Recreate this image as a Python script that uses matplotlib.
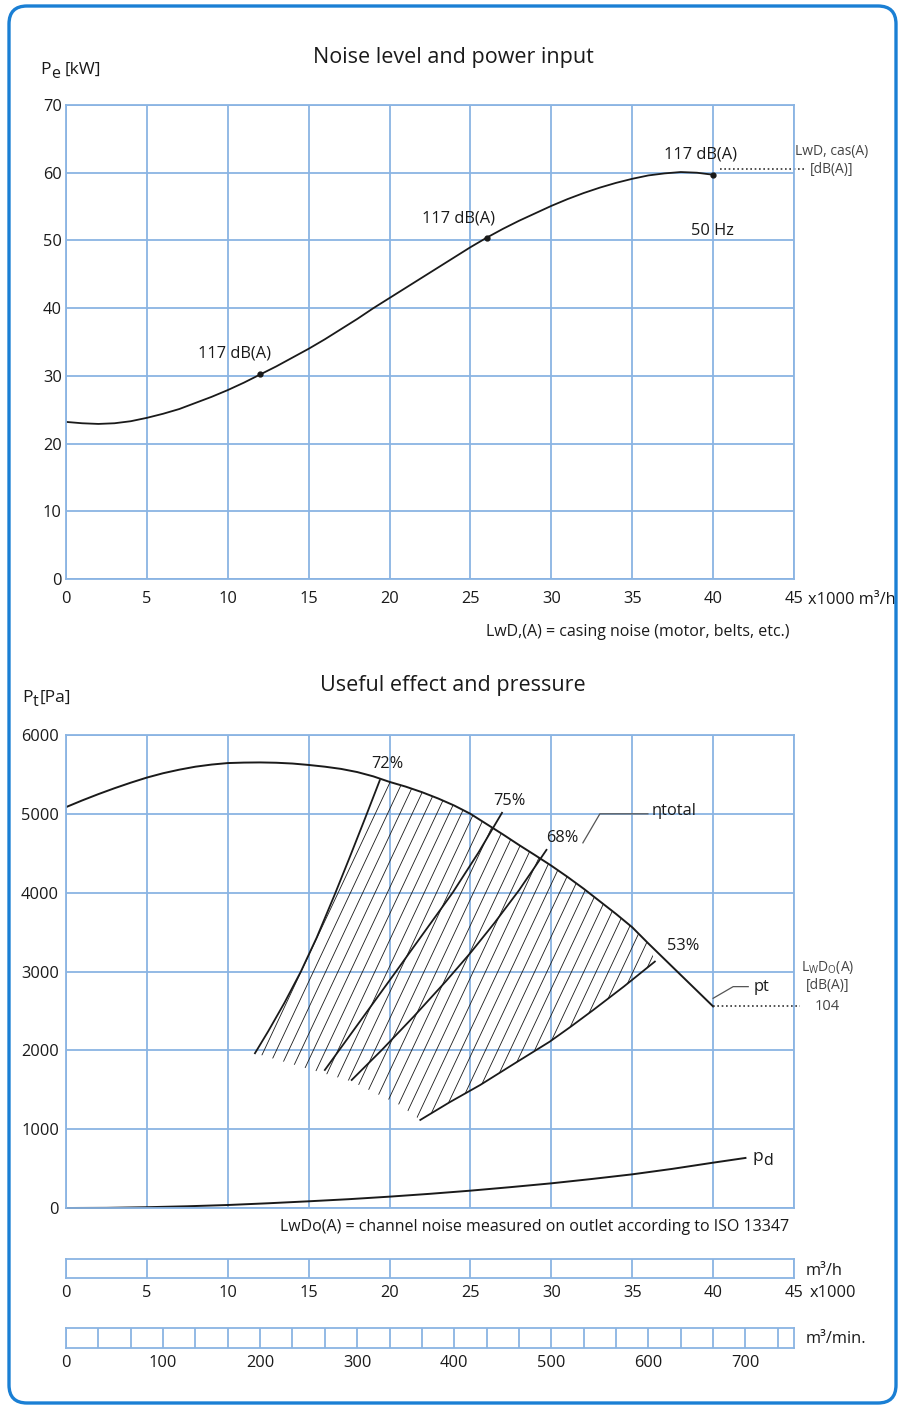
import matplotlib
matplotlib.use("Agg")
import matplotlib.pyplot as plt
import numpy as np
from matplotlib.collections import LineCollection
from matplotlib.patches import Polygon, FancyBboxPatch
from matplotlib.transforms import IdentityTransform

# ---- datos ----
# potencia absorbida Pe [kW] contra caudal (x1000 m3/h)
pe_x = list(range(0, 41))
pe_kw = [23.2, 23.0, 22.9, 23.0, 23.3, 23.8, 24.4, 25.1, 26.0, 26.9, 27.9,
         29.0, 30.2, 31.4, 32.7, 34.0, 35.4, 36.9, 38.4, 40.0, 41.5,
         43.0, 44.5, 46.0, 47.5, 49.0, 50.4, 51.7, 52.9, 54.0, 55.1,
         56.1, 57.0, 57.8, 58.5, 59.1, 59.6, 59.9, 60.1, 60.0, 59.7]
ruido_x = [12, 26, 40]
ruido_kw = [30.3, 50.4, 59.7]
ruido_txt = ["117 dB(A)", "117 dB(A)", "117 dB(A)"]

# presion total pt [Pa]
pt_x = list(range(0, 37)) + [40]
pt_pa = [5085, 5170, 5250, 5325, 5395, 5460, 5515, 5560, 5598, 5625, 5644,
         5650, 5652, 5648, 5638, 5620, 5598, 5570, 5530, 5475, 5405,
         5345, 5275, 5195, 5105, 5000, 4870, 4740, 4605, 4475, 4342,
         4200, 4050, 3890, 3730, 3561, 3355, 2557]

# presion dinamica pd [Pa]
pd_x = [0, 2.5, 5, 7.5, 10, 12.5, 15, 17.5, 20, 22.5, 25, 27.5, 30, 32.5, 35, 37.5, 40, 42]
pd_pa = [0, 2, 10, 22, 38, 60, 85, 112, 144, 180, 220, 265, 313, 368, 427, 497, 575, 635]

# lineas de rendimiento
eta72_x = [11.68, 12.5, 13.5, 14.5, 15.5, 16.6, 17.5, 18.5, 19.4]
eta72_y = [1963, 2242, 2602, 2992, 3432, 3971, 4430, 4950, 5427]
eta75_x = [16.0, 18.2, 20.4, 22.2, 23.9, 25.5, 26.95]
eta75_y = [1751, 2375, 3000, 3515, 4000, 4510, 5013]
eta68_x = [17.66, 19.5, 21.5, 23.5, 25.0, 26.5, 28.0, 29.7]
eta68_y = [1624, 2000, 2430, 2880, 3236, 3620, 4030, 4543]
inf_x = [21.9, 23.7, 25.6, 27.7, 29.9, 31.2, 32.6, 34.5, 36.4]
inf_y = [1117, 1340, 1560, 1830, 2110, 2300, 2513, 2812, 3126]
# borde inferior izquierdo del rayado
borde_x = [11.68, 17.66, 20.6, 21.9]
borde_y = [1963, 1605, 1310, 1117]

eta_txt = ["72%", "75%", "68%", "53%"]
eta_txt_x = [19.84, 27.38, 30.65, 38.13]
eta_txt_y = [5635, 5165, 4695, 3325]

# escalas inferiores
escala_h = [0, 5, 10, 15, 20, 25, 30, 35, 40, 45]
escala_min = [0, 100, 200, 300, 400, 500, 600, 700]

W, H = 901, 1408
AZUL = "#8ab4e3"
MARCO = "#1a7fd4"
NEGRO = "#1a1a1a"
GRIS = "#444444"
FS = 11.8

plt.rcParams["font.family"] = ["Open Sans", "DejaVu Sans"]

fig = plt.figure(figsize=(W / 100, H / 100), dpi=100)


def ejes(l, t, r, b):
    return fig.add_axes([l / W, 1 - b / H, (r - l) / W, (b - t) / H])


def fx(x, y):
    return x / W, 1 - y / H


def estilo(ax):
    for s in ax.spines.values():
        s.set_color(AZUL)
        s.set_linewidth(1.3)
    ax.grid(True, color=AZUL, lw=1.3)
    ax.set_axisbelow(True)
    ax.tick_params(length=0, labelsize=FS, colors=NEGRO)


def con_sub(x, y, letra, sub, resto=None, dx=21, size=12.5):
    # letra con subindice casi del mismo tamano, como en el original
    fig.text(*fx(x, y), letra, ha="left", va="center", fontsize=size, color=NEGRO)
    fig.text(*fx(x + 11, y + 4), sub, ha="left", va="center", fontsize=size - 1, color=NEGRO)
    if resto:
        fig.text(*fx(x + dx, y), resto, ha="left", va="center", fontsize=size, color=NEGRO)


# marco redondeado
fig.patches.append(FancyBboxPatch((9, 5), 887, 1397, boxstyle="round,pad=0,rounding_size=18",
                                  transform=IdentityTransform(), fill=False,
                                  edgecolor=MARCO, lw=2.4))

# ---------------- grafica superior ----------------
ax1 = ejes(66, 105, 794, 579)
estilo(ax1)
ax1.set_xlim(0, 45)
ax1.set_ylim(0, 70)
ax1.set_xticks(escala_h)
ax1.set_yticks(range(0, 71, 10))
ax1.tick_params(axis="x", pad=9)
ax1.tick_params(axis="y", pad=3)
ax1.plot(pe_x, pe_kw, color=NEGRO, lw=1.3)
ax1.plot(ruido_x, ruido_kw, "o", color=NEGRO, ms=3.5)
desp = [(-26, 20), (-28, 19), (-13, 20)]
for x, y, t, d in zip(ruido_x, ruido_kw, ruido_txt, desp):
    ax1.annotate(t, (x, y), xytext=d, textcoords="offset pixels", ha="center",
                 va="center", fontsize=FS, color=NEGRO)
ax1.text(39.93, 51.4, "50 Hz", ha="center", va="center", fontsize=FS, color=NEGRO)
ax1.plot([40.4, 45.6], [60.5, 60.5], color="#333333", lw=1.2, dashes=(1, 1.6), clip_on=False)
ax1.annotate("x1000 m³/h", (1, 0), xycoords="axes fraction", xytext=(14, -21),
             textcoords="offset pixels", ha="left", va="center", fontsize=FS, color=NEGRO)

con_sub(40, 70, "P", "e", "[kW]", dx=25)
fig.text(*fx(453, 58), "Noise level and power input", ha="center", va="center", fontsize=15.5, color=NEGRO)
fig.text(*fx(832, 151), "LwD, cas(A)", ha="center", va="center", fontsize=10, color=GRIS)
fig.text(*fx(832, 169), "[dB(A)]", ha="center", va="center", fontsize=10, color=GRIS)
fig.text(*fx(789, 632), "LwD,(A) = casing noise (motor, belts, etc.)", ha="right", va="center",
         fontsize=11.5, color=NEGRO)

# ---------------- grafica inferior ----------------
ax2 = ejes(66, 735, 794, 1208)
estilo(ax2)
ax2.set_xlim(0, 45)
ax2.set_ylim(0, 6000)
ax2.set_xticks(escala_h)
ax2.set_xticklabels([])
ax2.set_yticks(range(0, 6001, 1000))
ax2.tick_params(axis="y", pad=5)

ax2.plot(pt_x, pt_pa, color=NEGRO, lw=1.4)
ax2.plot(pd_x, pd_pa, color=NEGRO, lw=1.4, clip_on=False)

# zona rayada
arriba = [(x, y) for x, y in zip(pt_x, pt_pa) if 19.4 < x <= 36.3]
verts = (list(zip(eta72_x, eta72_y)) + arriba + list(zip(inf_x, inf_y))[::-1]
         + list(zip(borde_x, borde_y))[::-1])
zona = Polygon(verts, closed=True, fill=False, edgecolor="none", transform=ax2.transData)
ax2.add_patch(zona)
pend = 437.0
segs = []
for c in np.arange(9.2, 31.8, 0.76):
    segs.append([(c + (800 - 1000) / pend, 800), (c + (5900 - 1000) / pend, 5900)])
rayas = LineCollection(segs, colors=NEGRO, linewidths=0.6)
ax2.add_collection(rayas)
rayas.set_clip_path(zona)

for xs, ys in [(eta72_x, eta72_y), (eta75_x, eta75_y), (eta68_x, eta68_y), (inf_x, inf_y)]:
    ax2.plot(xs, ys, color=NEGRO, lw=1.3)
for t, x, y in zip(eta_txt, eta_txt_x, eta_txt_y):
    ax2.text(x, y, t, ha="center", va="center", fontsize=FS, color=NEGRO)

# etiquetas con linea guia
ax2.plot([31.95, 33.0, 35.97], [4632, 5000, 5000], color="#555555", lw=0.9)
ax2.text(36.2, 5030, "ηtotal", ha="left", va="center", fontsize=FS, color=NEGRO)
ax2.plot([40.0, 41.24, 42.17], [2660, 2808, 2808], color="#555555", lw=0.9, clip_on=False)
ax2.text(42.5, 2808, "pt", ha="left", va="center", fontsize=FS, color=NEGRO, clip_on=False)
ax2.plot([40.0, 45.4], [2557, 2557], color="#333333", lw=1.2, dashes=(1, 1.6), clip_on=False)
con_sub(752, 1157, "p", "d")

con_sub(22, 698, "P", "t", "[Pa]", dx=18)
fig.text(*fx(453, 685), "Useful effect and pressure", ha="center", va="center", fontsize=15.5, color=NEGRO)
fig.text(*fx(828, 968), "L$_\\mathregular{W}$D$_\\mathregular{O}$(A)", ha="center", va="center",
         fontsize=10, color=GRIS)
fig.text(*fx(828, 986), "[dB(A)]", ha="center", va="center", fontsize=10, color=GRIS)
fig.text(*fx(827, 1006), "104", ha="center", va="center", fontsize=10.5, color=GRIS)
fig.text(*fx(789, 1227), "LwDo(A) = channel noise measured on outlet according to ISO 13347",
         ha="right", va="center", fontsize=11.5, color=NEGRO)

# ---------------- escalas ----------------
ax3 = ejes(66, 1259, 794, 1278)
estilo(ax3)
ax3.set_xlim(0, 45)
ax3.set_ylim(0, 1)
ax3.set_yticks([])
ax3.set_xticks(escala_h)
ax3.tick_params(axis="x", pad=5)
ax3.grid(True, axis="x", color=AZUL, lw=1.3)
ax3.annotate("x1000", (1, 0), xycoords="axes fraction", xytext=(16, -15),
             textcoords="offset pixels", ha="left", va="center", fontsize=FS, color=NEGRO)
fig.text(*fx(806, 1271), "m³/h", ha="left", va="center", fontsize=FS, color=NEGRO)

ax4 = ejes(66, 1328, 794, 1348)
estilo(ax4)
ax4.set_xlim(0, 750)
ax4.set_ylim(0, 1)
ax4.set_yticks([])
ax4.set_xticks(escala_min)
ax4.set_xticks(np.arange(0, 750, 100 / 3), minor=True)
ax4.tick_params(axis="x", pad=5)
ax4.tick_params(which="minor", length=0)
ax4.grid(True, which="both", axis="x", color=AZUL, lw=1.3)
fig.text(*fx(806, 1339), "m³/min.", ha="left", va="center", fontsize=FS, color=NEGRO)

fig.savefig("out.png", dpi=100)
